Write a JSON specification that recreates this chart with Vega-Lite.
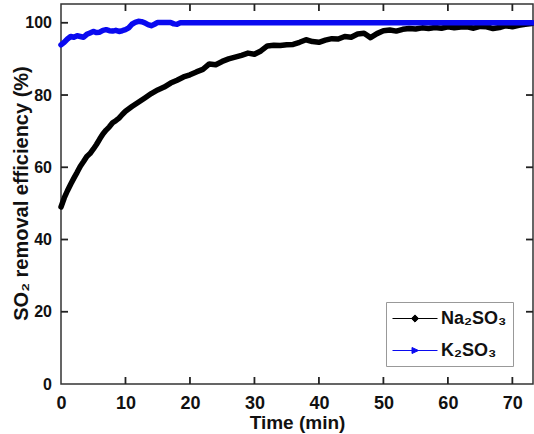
{
  "$schema": "https://vega.github.io/schema/vega-lite/v6.json",
  "width": 472,
  "height": 380,
  "autosize": "none",
  "padding": {"left": 61, "top": 4, "right": 1, "bottom": 50},
  "background": "white",
  "config": {
    "font": "Liberation Sans",
    "view": {"stroke": "#333", "strokeWidth": 1.5},
    "axis": {"grid": false, "domain": false, "ticks": false, "labelColor": "#111", "titleColor": "#111", "labelFontWeight": "bold", "titleFontWeight": "bold"}
  },
  "datasets": {
    "curves": [
      {"t":0,"v":49.0,"s":"Na₂SO₃"},{"t":0.5,"v":51.5,"s":"Na₂SO₃"},{"t":1,"v":53.5,"s":"Na₂SO₃"},{"t":1.5,"v":55.3,"s":"Na₂SO₃"},{"t":2,"v":57.0,"s":"Na₂SO₃"},{"t":2.5,"v":58.6,"s":"Na₂SO₃"},{"t":3,"v":60.3,"s":"Na₂SO₃"},{"t":3.5,"v":61.6,"s":"Na₂SO₃"},{"t":4,"v":63.0,"s":"Na₂SO₃"},{"t":4.5,"v":63.8,"s":"Na₂SO₃"},{"t":5,"v":65.0,"s":"Na₂SO₃"},{"t":5.5,"v":66.3,"s":"Na₂SO₃"},{"t":6,"v":67.8,"s":"Na₂SO₃"},{"t":6.5,"v":69.2,"s":"Na₂SO₃"},{"t":7,"v":70.3,"s":"Na₂SO₃"},{"t":7.5,"v":71.2,"s":"Na₂SO₃"},{"t":8,"v":72.3,"s":"Na₂SO₃"},{"t":8.5,"v":72.9,"s":"Na₂SO₃"},{"t":9,"v":73.6,"s":"Na₂SO₃"},{"t":9.5,"v":74.6,"s":"Na₂SO₃"},{"t":10,"v":75.5,"s":"Na₂SO₃"},{"t":11,"v":76.8,"s":"Na₂SO₃"},{"t":12,"v":78.0,"s":"Na₂SO₃"},{"t":13,"v":79.2,"s":"Na₂SO₃"},{"t":14,"v":80.4,"s":"Na₂SO₃"},{"t":15,"v":81.4,"s":"Na₂SO₃"},{"t":16,"v":82.2,"s":"Na₂SO₃"},{"t":17,"v":83.3,"s":"Na₂SO₃"},{"t":18,"v":84.1,"s":"Na₂SO₃"},{"t":19,"v":85.0,"s":"Na₂SO₃"},{"t":20,"v":85.6,"s":"Na₂SO₃"},{"t":21,"v":86.4,"s":"Na₂SO₃"},{"t":22,"v":87.1,"s":"Na₂SO₃"},{"t":23,"v":88.6,"s":"Na₂SO₃"},{"t":24,"v":88.4,"s":"Na₂SO₃"},{"t":25,"v":89.3,"s":"Na₂SO₃"},{"t":26,"v":90.0,"s":"Na₂SO₃"},{"t":27,"v":90.5,"s":"Na₂SO₃"},{"t":28,"v":91.0,"s":"Na₂SO₃"},{"t":29,"v":91.6,"s":"Na₂SO₃"},{"t":30,"v":91.3,"s":"Na₂SO₃"},{"t":31,"v":92.2,"s":"Na₂SO₃"},{"t":32,"v":93.6,"s":"Na₂SO₃"},{"t":33,"v":93.8,"s":"Na₂SO₃"},{"t":34,"v":93.7,"s":"Na₂SO₃"},{"t":35,"v":93.9,"s":"Na₂SO₃"},{"t":36,"v":94.0,"s":"Na₂SO₃"},{"t":37,"v":94.6,"s":"Na₂SO₃"},{"t":38,"v":95.3,"s":"Na₂SO₃"},{"t":39,"v":94.8,"s":"Na₂SO₃"},{"t":40,"v":94.6,"s":"Na₂SO₃"},{"t":41,"v":95.2,"s":"Na₂SO₃"},{"t":42,"v":95.6,"s":"Na₂SO₃"},{"t":43,"v":95.5,"s":"Na₂SO₃"},{"t":44,"v":96.2,"s":"Na₂SO₃"},{"t":45,"v":96.0,"s":"Na₂SO₃"},{"t":46,"v":96.9,"s":"Na₂SO₃"},{"t":47,"v":97.1,"s":"Na₂SO₃"},{"t":48,"v":95.9,"s":"Na₂SO₃"},{"t":49,"v":97.0,"s":"Na₂SO₃"},{"t":50,"v":97.8,"s":"Na₂SO₃"},{"t":51,"v":98.0,"s":"Na₂SO₃"},{"t":52,"v":97.7,"s":"Na₂SO₃"},{"t":53,"v":98.2,"s":"Na₂SO₃"},{"t":54,"v":98.4,"s":"Na₂SO₃"},{"t":55,"v":98.3,"s":"Na₂SO₃"},{"t":56,"v":98.6,"s":"Na₂SO₃"},{"t":57,"v":98.4,"s":"Na₂SO₃"},{"t":58,"v":98.7,"s":"Na₂SO₃"},{"t":59,"v":98.5,"s":"Na₂SO₃"},{"t":60,"v":98.9,"s":"Na₂SO₃"},{"t":61,"v":98.6,"s":"Na₂SO₃"},{"t":62,"v":98.8,"s":"Na₂SO₃"},{"t":63,"v":98.9,"s":"Na₂SO₃"},{"t":64,"v":98.5,"s":"Na₂SO₃"},{"t":65,"v":99.0,"s":"Na₂SO₃"},{"t":66,"v":98.9,"s":"Na₂SO₃"},{"t":67,"v":98.4,"s":"Na₂SO₃"},{"t":68,"v":98.7,"s":"Na₂SO₃"},{"t":69,"v":99.2,"s":"Na₂SO₃"},{"t":70,"v":98.9,"s":"Na₂SO₃"},{"t":71,"v":99.3,"s":"Na₂SO₃"},{"t":72,"v":99.6,"s":"Na₂SO₃"},{"t":73,"v":99.8,"s":"Na₂SO₃"},
      {"t":0,"v":93.9,"s":"K₂SO₃"},{"t":0.5,"v":94.6,"s":"K₂SO₃"},{"t":1,"v":95.5,"s":"K₂SO₃"},{"t":1.5,"v":96.2,"s":"K₂SO₃"},{"t":2,"v":96.0,"s":"K₂SO₃"},{"t":2.5,"v":96.4,"s":"K₂SO₃"},{"t":3,"v":96.2,"s":"K₂SO₃"},{"t":3.5,"v":96.0,"s":"K₂SO₃"},{"t":4,"v":96.8,"s":"K₂SO₃"},{"t":4.5,"v":97.2,"s":"K₂SO₃"},{"t":5,"v":97.6,"s":"K₂SO₃"},{"t":5.5,"v":97.3,"s":"K₂SO₃"},{"t":6,"v":97.4,"s":"K₂SO₃"},{"t":6.5,"v":97.9,"s":"K₂SO₃"},{"t":7,"v":98.1,"s":"K₂SO₃"},{"t":7.5,"v":97.8,"s":"K₂SO₃"},{"t":8,"v":97.7,"s":"K₂SO₃"},{"t":8.5,"v":97.9,"s":"K₂SO₃"},{"t":9,"v":97.6,"s":"K₂SO₃"},{"t":9.5,"v":97.8,"s":"K₂SO₃"},{"t":10,"v":98.1,"s":"K₂SO₃"},{"t":10.5,"v":98.6,"s":"K₂SO₃"},{"t":11,"v":99.6,"s":"K₂SO₃"},{"t":11.5,"v":100.1,"s":"K₂SO₃"},{"t":12,"v":100.4,"s":"K₂SO₃"},{"t":12.5,"v":100.3,"s":"K₂SO₃"},{"t":13,"v":100.0,"s":"K₂SO₃"},{"t":13.5,"v":99.5,"s":"K₂SO₃"},{"t":14,"v":99.2,"s":"K₂SO₃"},{"t":14.5,"v":99.6,"s":"K₂SO₃"},{"t":15,"v":100.1,"s":"K₂SO₃"},{"t":16,"v":100.1,"s":"K₂SO₃"},{"t":17,"v":100.1,"s":"K₂SO₃"},{"t":17.5,"v":99.7,"s":"K₂SO₃"},{"t":18,"v":99.6,"s":"K₂SO₃"},{"t":18.5,"v":100.0,"s":"K₂SO₃"},{"t":19,"v":100.0,"s":"K₂SO₃"},{"t":25,"v":100.0,"s":"K₂SO₃"},{"t":30,"v":100.0,"s":"K₂SO₃"},{"t":40,"v":100.0,"s":"K₂SO₃"},{"t":50,"v":100.0,"s":"K₂SO₃"},{"t":60,"v":100.0,"s":"K₂SO₃"},{"t":73.2,"v":100.0,"s":"K₂SO₃"}
    ],
    "xticks": [{"p":10},{"p":20},{"p":30},{"p":40},{"p":50},{"p":60},{"p":70}],
    "yticks": [{"p":20},{"p":40},{"p":60},{"p":80},{"p":100}]
  },
  "layer": [
    {
      "data": {"name": "xticks"},
      "mark": {"type": "tick", "orient": "vertical", "size": 14, "thickness": 1.8, "color": "#222", "opacity": 1, "clip": true},
      "encoding": {"x": {"field": "p", "type": "quantitative", "scale": {"domain": [0, 73.2], "nice": false, "zero": false}}, "y": {"datum": 0, "type": "quantitative"}}
    },
    {
      "data": {"name": "xticks"},
      "mark": {"type": "tick", "orient": "vertical", "size": 14, "thickness": 1.8, "color": "#222", "opacity": 1, "clip": true},
      "encoding": {"x": {"field": "p", "type": "quantitative"}, "y": {"datum": 105.2, "type": "quantitative"}}
    },
    {
      "data": {"name": "yticks"},
      "mark": {"type": "tick", "orient": "horizontal", "size": 14, "thickness": 1.8, "color": "#222", "opacity": 1, "clip": true},
      "encoding": {"y": {"field": "p", "type": "quantitative", "scale": {"domain": [0, 105.2], "nice": false, "zero": false}}, "x": {"datum": 0, "type": "quantitative"}}
    },
    {
      "data": {"name": "yticks"},
      "mark": {"type": "tick", "orient": "horizontal", "size": 14, "thickness": 1.8, "color": "#222", "opacity": 1, "clip": true},
      "encoding": {"y": {"field": "p", "type": "quantitative"}, "x": {"datum": 73.2, "type": "quantitative"}}
    },
    {
      "data": {"name": "curves"},
      "mark": {"type": "line", "strokeWidth": 5.5, "strokeJoin": "round", "strokeCap": "round"},
      "encoding": {
        "x": {"field": "t", "type": "quantitative", "scale": {"domain": [0, 73.2], "nice": false, "zero": false},
              "axis": {"orient": "bottom", "values": [0,10,20,30,40,50,60,70], "ticks": false, "tickSize": 0, "labelFontSize": 18, "labelPadding": 10, "labelFlush": false,
                       "title": "Time (min)", "titleFontSize": 19, "titleX": 236, "titleY": 29, "titleBaseline": "top"}},
        "y": {"field": "v", "type": "quantitative", "scale": {"domain": [0, 105.2], "nice": false, "zero": false},
              "axis": {"orient": "left", "values": [0,20,40,60,80,100], "ticks": false, "tickSize": 0, "labelFontSize": 16, "labelPadding": 9.5, "labelFlush": false,
                       "title": "SO₂ removal efficiency (%)", "titleFontSize": 20, "titleX": -30, "titleY": 189, "titleAngle": 270, "titleBaseline": "bottom"}},
        "color": {"field": "s", "type": "nominal",
                  "scale": {"domain": ["Na₂SO₃", "K₂SO₃"], "range": ["#000000", "#0a0af0"]},
                  "legend": {"title": null, "orient": "none", "legendX": 325, "legendY": 298,
                             "strokeColor": "#999", "fillColor": "white", "padding": 6,
                             "symbolSize": 400, "symbolStrokeWidth": 1, "rowPadding": 12,
                             "labelFontSize": 18, "labelFontWeight": "bold", "labelColor": "#111", "labelOffset": 28,
                             "encode": {"symbols": {"update": {
                               "shape": {"signal": "datum.value === 'Na₂SO₃' ? 'M-1,0H3.5M1.25,-0.36L1.61,0L1.25,0.36L0.89,0Z' : 'M-1,0H3.5M0.95,-0.3L1.6,0L0.95,0.3Z'"},
                               "fill": {"signal": "datum.value === 'Na₂SO₃' ? '#000000' : '#0a0af0'"},
                               "stroke": {"signal": "datum.value === 'Na₂SO₃' ? '#000000' : '#0a0af0'"},
                               "strokeWidth": {"value": 1},
                               "opacity": {"value": 1}
                             }}}}}
      }
    }
  ]
}
